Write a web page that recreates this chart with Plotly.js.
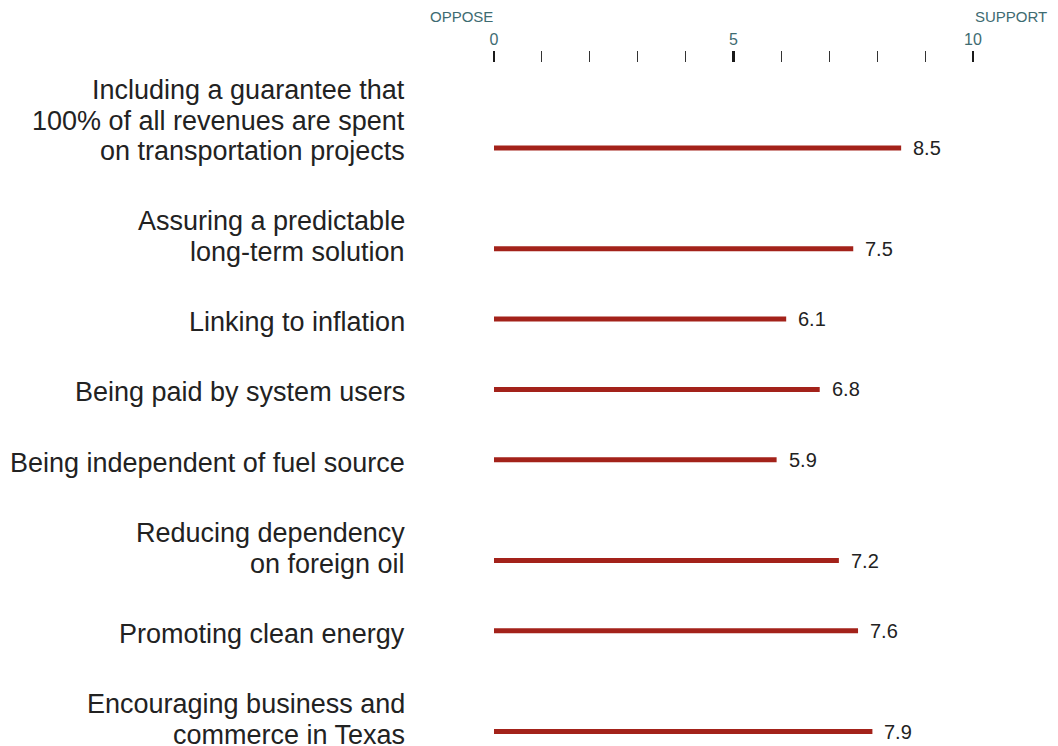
<!DOCTYPE html>
<html>
<head>
<meta charset="utf-8">
<script src="https://cdn.plot.ly/plotly-3.0.1.min.js"></script>
<style>html,body{margin:0;padding:0;background:#fff;}#chart{width:1058px;height:746px;}</style>
</head>
<body>
<div id="chart"></div>
<script>
// ---- data ----
const categories = [
  "Including a guarantee that<br>100% of all revenues are spent<br>on transportation projects",
  "Assuring a predictable<br>long-term solution",
  "Linking to inflation",
  "Being paid by system users",
  "Being independent of fuel source",
  "Reducing dependency<br>on foreign oil",
  "Promoting clean energy",
  "Encouraging business and<br>commerce in Texas"
];
const values = [8.5, 7.5, 6.1, 6.8, 5.9, 7.2, 7.6, 7.9];
const valueLabels = ["8.5", "7.5", "6.1", "6.8", "5.9", "7.2", "7.6", "7.9"];
const scaleLabels = ["OPPOSE", "SUPPORT"];

// ---- layout helpers ----
const FONT = "Liberation Sans, Arial, Helvetica, sans-serif";
const ROW_GAP = 70.3, LINE_H = 30.5;
const pos = [];
let cur = 0;
categories.forEach((c, i) => {
  const n = c.split("<br>").length;
  if (i > 0) cur += ROW_GAP + LINE_H * (n - 1);
  pos.push(cur);
});

const W = 1058, H = 746, TOP = 63, FIRST = 148;

const annotations = [];
categories.forEach((c, i) => {
  const lines = c.split("<br>");
  lines.forEach((ln, k) => {
    annotations.push({
      xref: "paper", yref: "y", x: 407 / W, y: pos[i],
      xanchor: "right", yanchor: "middle",
      yshift: (lines.length - 1 - k) * LINE_H - 3,
      text: ln, showarrow: false,
      font: {family: FONT, size: 27, color: "#222222"}
    });
  });
  annotations.push({
    xref: "x", yref: "y", x: values[i], y: pos[i],
    xanchor: "left", yanchor: "middle", xshift: 10, yshift: 0,
    text: valueLabels[i], showarrow: false,
    font: {family: FONT, size: 20, color: "#222222"}
  });
});
annotations.push({
  xref: "x", yref: "paper", x: 0, y: 1, xanchor: "right", yanchor: "middle",
  yshift: TOP - 16, xshift: 1, text: scaleLabels[0], showarrow: false,
  font: {family: FONT, size: 15, color: "#3e6b71"}
});
annotations.push({
  xref: "x", yref: "paper", x: 10, y: 1, xanchor: "left", yanchor: "middle",
  yshift: TOP - 16, xshift: 0, text: scaleLabels[1], showarrow: false,
  font: {family: FONT, size: 15, color: "#3e6b71"}
});

const trace = {
  type: "bar", orientation: "h",
  x: values, y: pos, width: 5,
  marker: {color: "#a3221a", line: {width: 0}},
  hoverinfo: "skip"
};

const layout = {
  width: W, height: H,
  margin: {l: 0, r: 0, t: TOP, b: 0, pad: 0},
  paper_bgcolor: "#ffffff", plot_bgcolor: "#ffffff",
  showlegend: false,
  xaxis: {
    domain: [494 / W, 973 / W], range: [0, 10], side: "top",
    tickmode: "linear", tick0: 0, dtick: 5,
    ticks: "outside", ticklen: 11, tickwidth: 2.5, tickcolor: "#1a1a1a",
    minor: {tickmode: "linear", tick0: 0, dtick: 1, ticks: "outside", ticklen: 11, tickwidth: 1, tickcolor: "#333333", showgrid: false},
    showgrid: false, zeroline: false, showline: false,
    tickfont: {family: FONT, size: 16, color: "#3e6b71"},
    fixedrange: true
  },
  yaxis: {
    range: [H - FIRST, TOP - FIRST], autorange: false,
    visible: false, showgrid: false, zeroline: false, fixedrange: true
  },
  annotations: annotations
};

Plotly.newPlot("chart", [trace], layout, {displayModeBar: false, staticPlot: true});
</script>
</body>
</html>
